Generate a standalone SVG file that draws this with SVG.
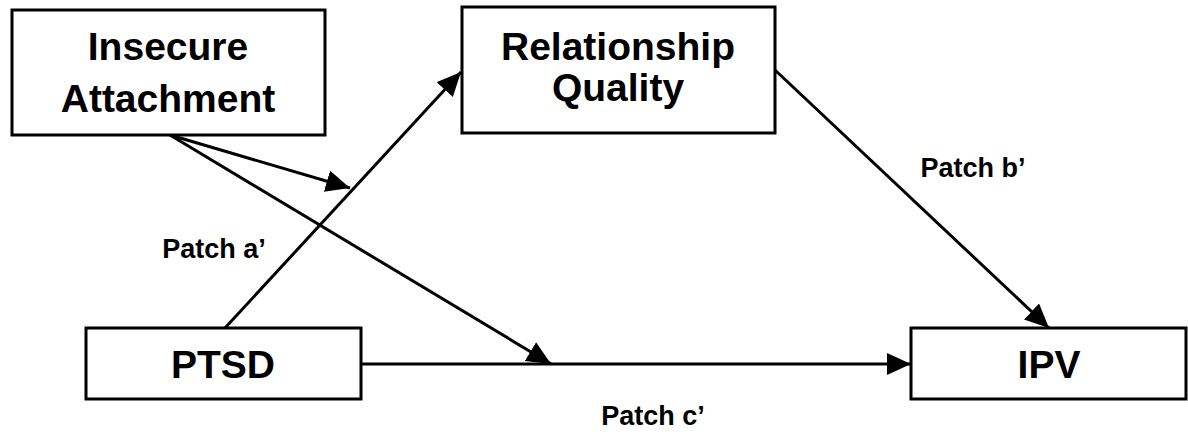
<svg xmlns="http://www.w3.org/2000/svg" width="1188" height="436" viewBox="0 0 1188 436">
<style>
.box{fill:#fff;stroke:#000;stroke-width:3}
.nt{font-family:"Liberation Sans",Arial,sans-serif;font-weight:bold;font-size:39px;fill:#000;text-anchor:middle}
.lb{font-family:"Liberation Sans",Arial,sans-serif;font-weight:bold;font-size:27px;fill:#000;text-anchor:middle}
.ln{stroke:#000;stroke-width:3;fill:none;marker-end:url(#ah)}
</style>
<defs>
<marker id="ah" markerUnits="userSpaceOnUse" markerWidth="26" markerHeight="24" refX="24" refY="11" orient="auto">
<path d="M0,0 L24,11 L0,22 z" fill="#000"/>
</marker>
</defs>
<rect width="1188" height="436" fill="#fff"/>
<g id="connectors">
<line class="ln" x1="225" y1="328" x2="461" y2="72"/>
<line class="ln" x1="170" y1="135" x2="350" y2="188"/>
<line class="ln" x1="170" y1="135" x2="551" y2="364"/>
<line class="ln" x1="361" y1="364" x2="911" y2="364"/>
<line class="ln" x1="775" y1="70" x2="1049" y2="328"/>
</g>
<g id="node-insecure-attachment">
<rect class="box" x="12" y="10" width="313" height="125"/>
<text class="nt" x="168" y="60">Insecure</text>
<text class="nt" x="168" y="112">Attachment</text>
</g>
<g id="node-relationship-quality">
<rect class="box" x="462" y="7" width="313" height="126"/>
<text class="nt" x="618" y="60">Relationship</text>
<text class="nt" x="618" y="101">Quality</text>
</g>
<g id="node-ptsd">
<rect class="box" x="86" y="328" width="275" height="71"/>
<text class="nt" x="223" y="378">PTSD</text>
</g>
<g id="node-ipv">
<rect class="box" x="911" y="328" width="275" height="71"/>
<text class="nt" x="1049" y="378">IPV</text>
</g>
<g id="labels">
<text class="lb" x="214" y="258">Patch a’</text>
<text class="lb" x="973" y="177">Patch b’</text>
<text class="lb" x="653" y="425">Patch c’</text>
</g>
</svg>
